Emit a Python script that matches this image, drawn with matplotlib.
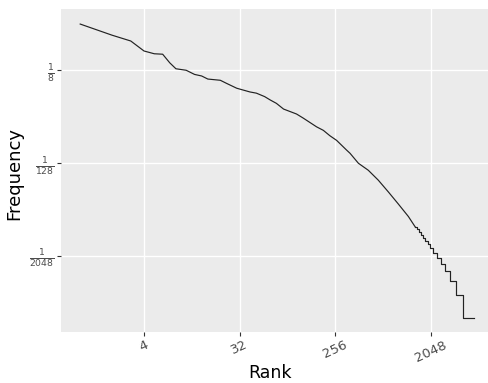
"""
Rank-frequency plot (log2 / log2), ggplot-like grey theme.
Output: out.png
"""

import numpy as np
import matplotlib.pyplot as plt

# -------------------------------------------------------------------
# Data: counts (frequency = count / total_count)
# -------------------------------------------------------------------
total_count = 13100

# smooth upper part of the curve
head_ranks = [1, 2, 3, 4, 5, 6, 7, 8, 10, 12, 14, 16, 21, 24, 30, 40, 46,
              55, 62, 71, 83, 110, 127, 170, 197, 227, 263, 326, 352, 422,
              523, 650, 808, 1003, 1250, 1410]
head_counts = [6460, 4630, 3895, 2890, 2660, 2625, 2030, 1700, 1625, 1435,
               1370, 1250, 1205, 1100, 950, 850, 820, 740, 670, 605, 510,
               440, 390, 300, 270, 230, 200, 150, 136, 101, 82, 61, 43, 30,
               20.6, 16]

# low-count tail: first rank that has each count
tail_counts = [15, 14, 13, 12, 11, 10, 9, 8, 7, 6, 5, 4, 3, 2, 1]
tail_ranks = [1455, 1500, 1560, 1640, 1720, 1810, 1900, 2000, 2150, 2330,
              2520, 2760, 3080, 3490, 4120]
last_rank = 5220

x_ticks = [4, 32, 256, 2048]
y_ticks = [1 / 8, 1 / 128, 1 / 2048]
y_tick_labels = [r"$\frac{1}{8}$", r"$\frac{1}{128}$", r"$\frac{1}{2048}$"]

# -------------------------------------------------------------------
# Plotting
# -------------------------------------------------------------------
fig = plt.figure(figsize=(4.89, 3.83), dpi=100)
ax = fig.add_axes([61 / 489, 1 - 332 / 383, 428 / 489, 323 / 383])
ax.set_facecolor("#EBEBEB")

head_x = np.r_[head_ranks, tail_ranks[0]]
head_y = np.r_[head_counts, tail_counts[0]] / total_count
ax.plot(head_x, head_y, color="#222222", linewidth=0.85)

tail_x = np.r_[tail_ranks, last_rank]
tail_y = np.r_[tail_counts, tail_counts[-1]] / total_count
ax.step(tail_x, tail_y, where="post", color="#222222", linewidth=0.85)

ax.set_xscale("log", base=2)
ax.set_yscale("log", base=2)
ax.set_xlim(2 ** -0.602, 2 ** 12.815)
ax.set_ylim(2 ** -14.29, 2 ** -0.371)

ax.set_xticks(x_ticks)
ax.set_xticklabels([str(t) for t in x_ticks], rotation=25, ha="center")
ax.set_yticks(y_ticks)
ax.set_yticklabels(y_tick_labels)
ax.minorticks_off()

ax.grid(True, which="major", color="white", linewidth=1.0)
ax.set_axisbelow(True)
for s in ax.spines.values():
    s.set_visible(False)
ax.tick_params(axis="both", colors="#333333", length=3, width=0.8,
               labelsize=9.5, labelcolor="#4D4D4D", pad=1.5)

ax.set_xlabel("Rank", fontsize=12.5)
ax.set_ylabel("Frequency", fontsize=13)
ax.xaxis.set_label_coords(0.488, -0.1)
ax.yaxis.set_label_coords(-0.088, 0.491)

fig.savefig("out.png", dpi=100)
plt.close(fig)
